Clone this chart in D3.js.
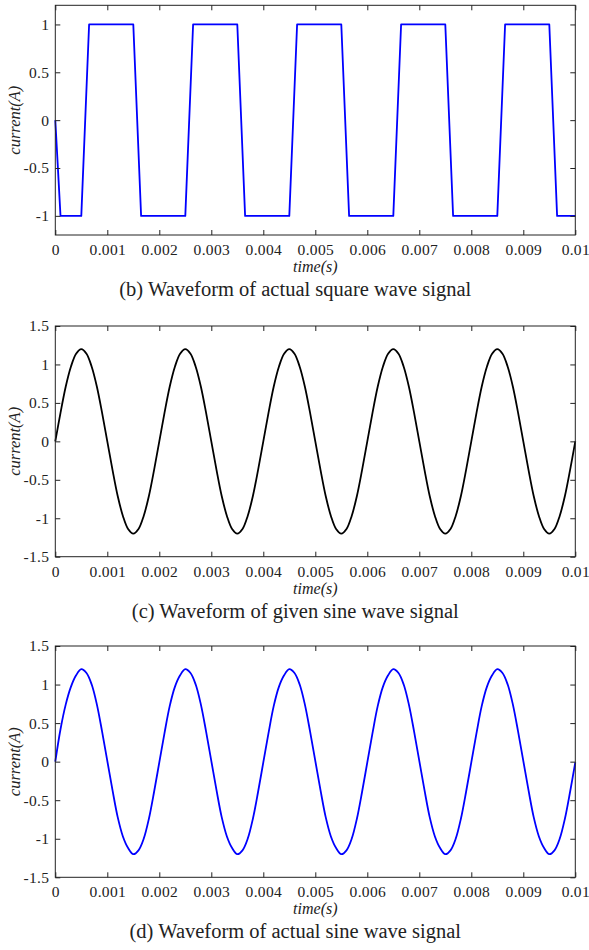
<!DOCTYPE html>
<html>
<head>
<meta charset="utf-8">
<script src="https://cdn.jsdelivr.net/npm/d3@7.9.0/dist/d3.min.js"></script>
<style>
  body { margin: 0; background: #fff; }
  svg { display: block; }
  text { font-family: "Liberation Serif", "Times New Roman", serif; fill: #222; }
</style>
</head>
<body>
<svg id="chart" width="589" height="950"></svg>
<script>
// sample spacing of the sine traces (s)
const sampleStep = 0.0001;

const xTicks = [0, 0.001, 0.002, 0.003, 0.004, 0.005, 0.006, 0.007, 0.008, 0.009, 0.01];
const xTickLabels = ['0', '0.001', '0.002', '0.003', '0.004', '0.005', '0.006', '0.007', '0.008', '0.009', '0.01'];

// (b) actual square wave: corner points [time, current]
const squareWave = [
  [0, 0], [0.0001, -1], [0.0005, -1], [0.00065, 1], [0.0015, 1], [0.00165, -1],
  [0.0025, -1], [0.00265, 1], [0.0035, 1], [0.00365, -1], [0.0045, -1], [0.00465, 1],
  [0.0055, 1], [0.00565, -1], [0.0065, -1], [0.00665, 1], [0.0075, 1], [0.00765, -1],
  [0.0085, -1], [0.00865, 1], [0.0095, 1], [0.00965, -1], [0.01, -1]
];

// (c) given sine wave, one value per sampleStep
const givenSine = [
  0, 0.37, 0.71, 0.97, 1.14, 1.2, 1.14, 0.97, 0.71, 0.37,
  0, -0.37, -0.71, -0.97, -1.14, -1.2, -1.14, -0.97, -0.71, -0.37,
  0, 0.37, 0.71, 0.97, 1.14, 1.2, 1.14, 0.97, 0.71, 0.37,
  0, -0.37, -0.71, -0.97, -1.14, -1.2, -1.14, -0.97, -0.71, -0.37,
  0, 0.37, 0.71, 0.97, 1.14, 1.2, 1.14, 0.97, 0.71, 0.37,
  0, -0.37, -0.71, -0.97, -1.14, -1.2, -1.14, -0.97, -0.71, -0.37,
  0, 0.37, 0.71, 0.97, 1.14, 1.2, 1.14, 0.97, 0.71, 0.37,
  0, -0.37, -0.71, -0.97, -1.14, -1.2, -1.14, -0.97, -0.71, -0.37,
  0, 0.37, 0.71, 0.97, 1.14, 1.2, 1.14, 0.97, 0.71, 0.37,
  0, -0.37, -0.71, -0.97, -1.14, -1.2, -1.14, -0.97, -0.71, -0.37,
  0
];

// (d) actual sine wave, one value per sampleStep
const actualSine = [
  0, 0.42, 0.74, 0.97, 1.12, 1.2, 1.15, 1.0, 0.74, 0.39,
  0.01, -0.37, -0.72, -0.97, -1.12, -1.2, -1.15, -1.0, -0.74, -0.39,
  -0.01, 0.37, 0.72, 0.97, 1.12, 1.2, 1.15, 1.0, 0.74, 0.39,
  0.01, -0.37, -0.72, -0.97, -1.12, -1.2, -1.15, -1.0, -0.74, -0.39,
  -0.01, 0.37, 0.72, 0.97, 1.12, 1.2, 1.15, 1.0, 0.74, 0.39,
  0.01, -0.37, -0.72, -0.97, -1.12, -1.2, -1.15, -1.0, -0.74, -0.39,
  -0.01, 0.37, 0.72, 0.97, 1.12, 1.2, 1.15, 1.0, 0.74, 0.39,
  0.01, -0.37, -0.72, -0.97, -1.12, -1.2, -1.15, -1.0, -0.74, -0.39,
  -0.01, 0.37, 0.72, 0.97, 1.12, 1.2, 1.15, 1.0, 0.74, 0.39,
  0.01, -0.37, -0.72, -0.97, -1.12, -1.2, -1.15, -1.0, -0.74, -0.39,
  -0.01
];

const squareYTicks = [-1, -0.5, 0, 0.5, 1];
const sineYTicks = [-1.5, -1, -0.5, 0, 0.5, 1, 1.5];

const captions = [
  '(b) Waveform of actual square wave signal',
  '(c) Waveform of given sine wave signal',
  '(d) Waveform of actual sine wave signal'
];

const toPoints = vals => vals.map((v, i) => [i * sampleStep, v]);

const panels = [
  { top: 5.3, h: 229.7, domain: [-1.2, 1.2], yTicks: squareYTicks, data: squareWave,
    color: '#0000ff', curve: d3.curveLinear, caption: captions[0] },
  { top: 326, h: 230.7, domain: [-1.5, 1.5], yTicks: sineYTicks, data: toPoints(givenSine),
    color: '#000000', curve: d3.curveCatmullRom, caption: captions[1] },
  { top: 646, h: 231.3, domain: [-1.5, 1.5], yTicks: sineYTicks, data: toPoints(actualSine),
    color: '#0000ff', curve: d3.curveCatmullRom.alpha(0.5), caption: captions[2] }
];

const left = 55.3, plotW = 520;
const svg = d3.select('#chart');

const x = d3.scaleLinear().domain([0, 0.01]).range([0, plotW]);

panels.forEach(p => {
  const y = d3.scaleLinear().domain(p.domain).range([p.h, 0]);
  const g = svg.append('g').attr('transform', `translate(${left},${p.top})`);

  const line = d3.line().x(d => x(d[0])).y(d => y(d[1])).curve(p.curve);
  g.append('path')
    .datum(p.data)
    .attr('d', line)
    .attr('fill', 'none')
    .attr('stroke', p.color)
    .attr('stroke-width', 1.8)
    .attr('stroke-linejoin', 'round');

  const fmtX = d => xTickLabels[xTicks.indexOf(d)];
  const bottomAx = g.append('g').attr('transform', `translate(0,${p.h})`)
    .call(d3.axisBottom(x).tickValues(xTicks).tickFormat(fmtX).tickSize(-5).tickPadding(9));
  const topAx = g.append('g')
    .call(d3.axisTop(x).tickValues(xTicks).tickFormat('').tickSize(-5));
  const leftAx = g.append('g')
    .call(d3.axisLeft(y).tickValues(p.yTicks).tickFormat(d => String(d)).tickSize(-5).tickPadding(6));
  const rightAx = g.append('g').attr('transform', `translate(${plotW},0)`)
    .call(d3.axisRight(y).tickValues(p.yTicks).tickFormat('').tickSize(-5));

  [bottomAx, topAx, leftAx, rightAx].forEach(a => {
    a.select('.domain').remove();
    a.selectAll('line').attr('stroke', '#222');
    a.selectAll('text')
      .style('font-family', '"Liberation Serif", "Times New Roman", serif')
      .style('font-size', '15.5px')
      .style('letter-spacing', '0.3px')
      .attr('fill', '#222');
  });

  g.append('rect')
    .attr('width', plotW).attr('height', p.h)
    .attr('fill', 'none').attr('stroke', '#222').attr('stroke-width', 1);

  g.append('text')
    .attr('x', plotW / 2).attr('y', p.h + 37)
    .attr('text-anchor', 'middle')
    .style('font-size', '16px').style('font-style', 'italic')
    .text('time(s)');

  g.append('text')
    .attr('transform', `translate(${-35},${p.h / 2}) rotate(-90)`)
    .attr('text-anchor', 'middle')
    .style('font-size', '16.5px').style('font-style', 'italic')
    .text('current(A)');

  g.append('text')
    .attr('x', plotW / 2 - 20).attr('y', p.h + 61)
    .attr('text-anchor', 'middle')
    .style('font-size', '20.5px')
    .text(p.caption);
});
</script>
</body>
</html>
